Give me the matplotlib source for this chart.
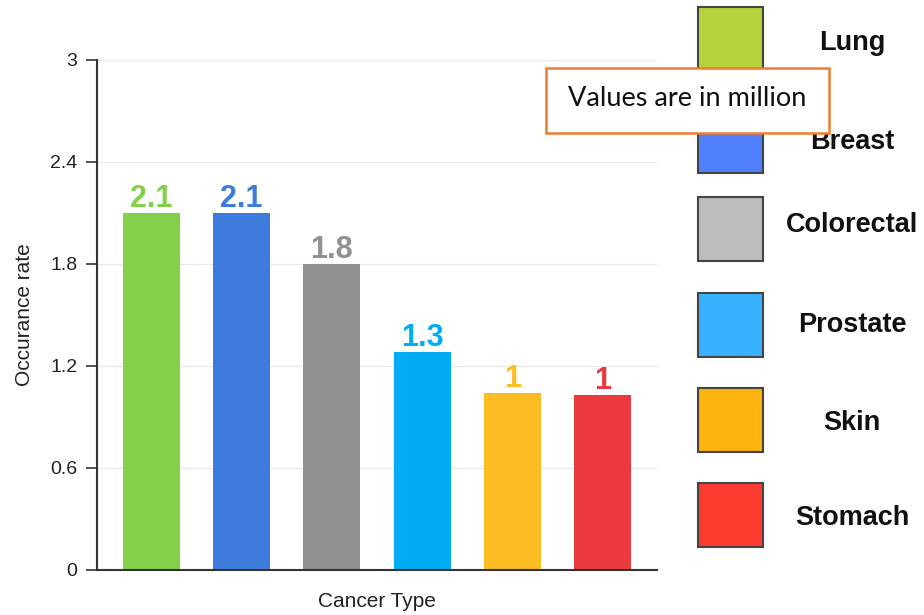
import matplotlib
matplotlib.use('Agg')
import matplotlib.pyplot as plt
from matplotlib.patches import Rectangle

plt.rcParams['font.family'] = ['Liberation Sans', 'DejaVu Sans']

# data
cancer = ['Lung', 'Breast', 'Colorectal', 'Prostate', 'Skin', 'Stomach']
rate = [2.1, 2.1, 1.8, 1.285, 1.04, 1.03]
rate_text = ['2.1', '2.1', '1.8', '1.3', '1', '1']
bar_colors = ['#84d04a', '#3f7bdc', '#919191', '#00adf5', '#fdbc22', '#eb3a3e']
legend_colors = ['#b5d43c', '#5080fe', '#bcbcbc', '#36b2fe', '#feb30f', '#fe3b2f']
yticks = [0, 0.6, 1.2, 1.8, 2.4, 3]
ytick_text = ['0', '0.6', '1.2', '1.8', '2.4', '3']

fig = plt.figure(figsize=(9.24, 6.15), dpi=100)
ax = fig.add_axes([97 / 924, 45 / 615, 560 / 924, 510 / 615])

x = list(range(len(cancer)))
ax.bar(x, rate, width=0.63, color=bar_colors, zorder=2)
for i in x:
    ax.text(i, rate[i] + 0.035, rate_text[i], color=bar_colors[i], ha='center', va='baseline',
            fontsize=22, fontweight='bold', zorder=3)

ax.set_xlim(-0.6, 5.6)
ax.set_ylim(0, 3)
ax.set_yticks(yticks)
ax.set_yticklabels(ytick_text)
ax.set_xticks([])
ax.grid(axis='y', color='#ebebeb', linewidth=1, zorder=0)
ax.tick_params(axis='y', length=8, width=1.2, color='#333333', labelsize=14, labelcolor='#222222', pad=6)
for s in ['top', 'right']:
    ax.spines[s].set_visible(False)
ax.spines['left'].set_color('#333333')
ax.spines['left'].set_linewidth(1.5)
ax.spines['bottom'].set_color('#333333')
ax.spines['bottom'].set_linewidth(1.5)
ax.set_ylabel('Occurance rate', fontsize=15, color='#222222', labelpad=12)
ax.set_xlabel('Cancer Type', fontsize=15, color='#222222', labelpad=16)

# legend boxes on the right
W, H = 924.0, 615.0
box_tops = [7, 109, 197, 293, 388, 483]
label_y = [43, 142, 225, 325, 423, 518]
for i, name in enumerate(cancer):
    top = box_tops[i]
    fig.patches.append(Rectangle((698 / W, 1 - (top + 64) / H), 65 / W, 64 / H,
                                 transform=fig.transFigure, facecolor=legend_colors[i],
                                 edgecolor='#444444', linewidth=1.5, zorder=3))
    fig.text(852 / W, 1 - label_y[i] / H, name, ha='center', va='center',
             fontsize=19.5, fontweight='bold', color='#111111', zorder=4)

# note box
fig.patches.append(Rectangle((546 / W, 1 - 133 / H), 283 / W, 65 / H,
                             transform=fig.transFigure, facecolor='white',
                             edgecolor='#ed7d31', linewidth=1.8, zorder=5))
fig.text(687 / W, 1 - 99 / H, 'Values are in million', ha='center', va='center',
         fontsize=19.5, family=['Lato', 'DejaVu Sans'], color='#111111', zorder=6)

plt.savefig('out.png', dpi=100)
plt.close()
